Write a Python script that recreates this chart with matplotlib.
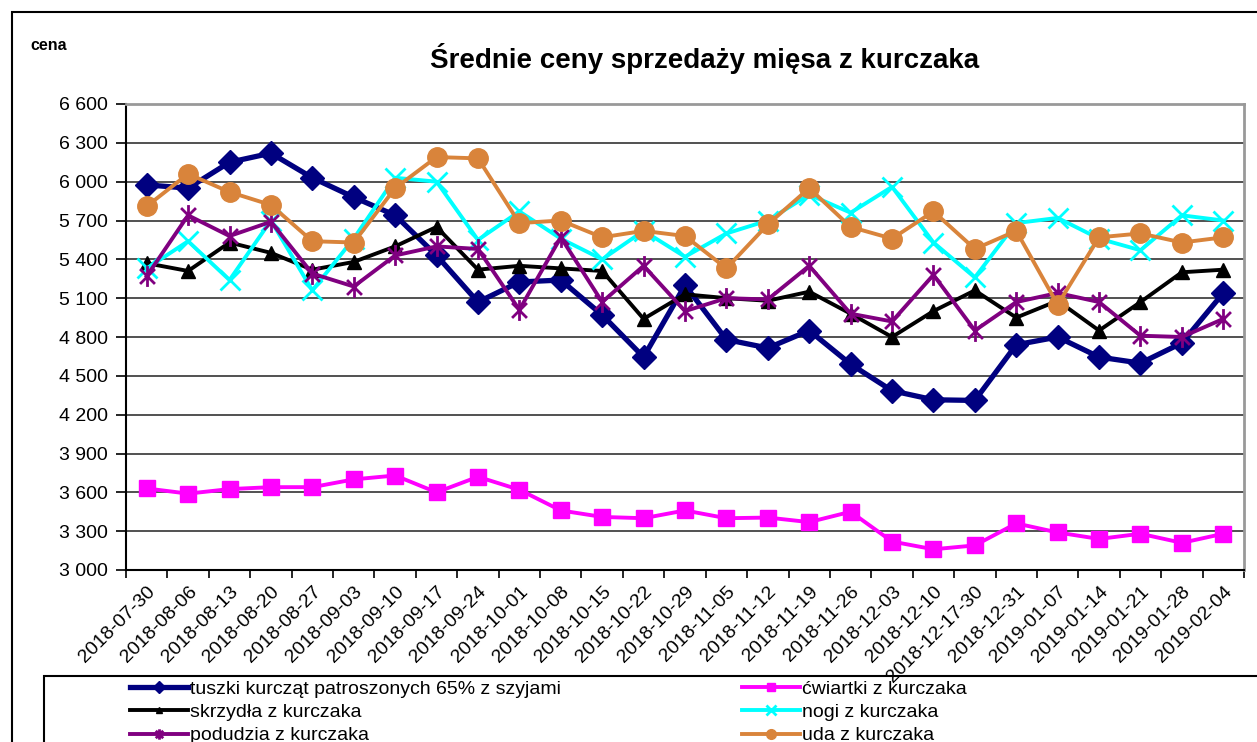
import matplotlib
matplotlib.use("Agg")
import matplotlib.pyplot as plt
from matplotlib.patches import Rectangle
from matplotlib.path import Path
from matplotlib.ticker import FixedLocator, FuncFormatter
from matplotlib.transforms import ScaledTranslation

plt.rcParams['font.family'] = ['Liberation Sans', 'DejaVu Sans']

dates = ["2018-07-30", "2018-08-06", "2018-08-13", "2018-08-20", "2018-08-27",
         "2018-09-03", "2018-09-10", "2018-09-17", "2018-09-24", "2018-10-01",
         "2018-10-08", "2018-10-15", "2018-10-22", "2018-10-29", "2018-11-05",
         "2018-11-12", "2018-11-19", "2018-11-26", "2018-12-03", "2018-12-10",
         "2018-12-17-30", "2018-12-31", "2019-01-07", "2019-01-14", "2019-01-21",
         "2019-01-28", "2019-02-04"]

tuszki = [5975, 5950, 6150, 6220, 6030, 5880, 5740, 5430, 5070, 5225,
          5240, 4970, 4645, 5200, 4780, 4715, 4850, 4590, 4385, 4315,
          4310, 4740, 4800, 4645, 4598, 4754, 5140]
cwiartki = [3630, 3590, 3625, 3640, 3640, 3700, 3730, 3600, 3720, 3620,
            3460, 3410, 3400, 3460, 3400, 3405, 3370, 3450, 3220, 3160,
            3190, 3360, 3290, 3240, 3280, 3210, 3280]
skrzydla = [5370, 5310, 5530, 5450, 5320, 5380, 5500, 5650, 5320, 5350,
            5330, 5310, 4940, 5130, 5100, 5080, 5150, 4980, 4800, 5000,
            5160, 4950, 5080, 4850, 5070, 5300, 5320]
nogi = [5330, 5540, 5240, 5700, 5160, 5560, 6030, 6000, 5550, 5770,
        5560, 5400, 5620, 5420, 5600, 5700, 5900, 5760, 5960, 5530,
        5260, 5680, 5720, 5560, 5470, 5740, 5700]
podudzia = [5270, 5740, 5580, 5690, 5290, 5190, 5430, 5500, 5480, 5010,
            5570, 5070, 5350, 5000, 5100, 5090, 5350, 4980, 4920, 5280,
            4850, 5070, 5140, 5070, 4810, 4800, 4940]
uda = [5810, 6060, 5920, 5820, 5540, 5530, 5950, 6190, 6180, 5680,
       5700, 5570, 5620, 5580, 5330, 5670, 5950, 5650, 5560, 5770,
       5480, 5620, 5050, 5570, 5600, 5530, 5570]

y_ticks = list(range(3000, 6601, 300))

asterisk = Path([(-1, -1), (1, 1), (-1, 1), (1, -1), (0, -1.4), (0, 1.4)],
                [Path.MOVETO, Path.LINETO] * 3)

fig = plt.figure(figsize=(12.57, 7.42), dpi=100)
ax = fig.add_axes([126 / 1257, 1 - 570 / 742, 1118 / 1257, 466 / 742])

x = list(range(len(dates)))
h_tus, = ax.plot(x, tuszki, color='#000080', lw=3.8, marker='D', ms=12,
                 label='tuszki kurcząt patroszonych 65% z szyjami')
h_cw, = ax.plot(x, cwiartki, color='#FF00FF', lw=2.8, marker='s', ms=12,
                label='ćwiartki z kurczaka')
h_skr, = ax.plot(x, skrzydla, color='black', lw=2.8, marker='^', ms=10,
                 label='skrzydła z kurczaka')
h_nog, = ax.plot(x, nogi, color='#00FFFF', lw=2.8, marker='x', ms=14, mew=2,
                 label='nogi z kurczaka')
h_pod, = ax.plot(x, podudzia, color='#800080', lw=2.8, marker=asterisk, ms=15,
                 mew=2, mec='#800080', label='podudzia z kurczaka')
h_uda, = ax.plot(x, uda, color='#D9843B', lw=2.8, marker='o', ms=14,
                 label='uda z kurczaka')

ax.set_xlim(-0.5, len(dates) - 0.5)
ax.set_ylim(3000, 6600)
ax.set_yticks(y_ticks)
ax.yaxis.set_major_formatter(FuncFormatter(lambda v, p: f"{int(v):,}".replace(",", " ")))
ax.yaxis.grid(True, color='#333333', lw=1.2)
ax.set_axisbelow(True)
ax.tick_params(axis='y', direction='out', length=7, width=1.2, labelsize=14, pad=6)

ax.set_xticks(x)
ax.set_xticklabels(dates, rotation=45, ha='right', va='center',
                   rotation_mode='anchor', fontsize=14)
ax.xaxis.set_minor_locator(FixedLocator([i - 0.5 for i in range(len(dates) + 1)]))
ax.tick_params(axis='x', which='major', length=0, pad=14)
ax.tick_params(axis='x', which='minor', direction='out', length=6, width=1.2)
for lab in ax.get_xticklabels():
    lab.set_transform(lab.get_transform() + ScaledTranslation(0.06, 0, fig.dpi_scale_trans))

ax.spines['left'].set_color('black')
ax.spines['bottom'].set_color('black')
ax.spines['left'].set_linewidth(1.5)
ax.spines['bottom'].set_linewidth(1.5)
ax.spines['top'].set_color('#999999')
ax.spines['right'].set_color('#999999')
ax.spines['top'].set_linewidth(2)
ax.spines['right'].set_linewidth(2)

fig.text(705 / 1257, 1 - 58 / 742, 'Średnie ceny sprzedaży mięsa z kurczaka',
         ha='center', va='center', fontsize=20, weight='bold')
fig.text(30 / 1257, 1 - 45 / 742, 'cena', ha='left', va='center',
         fontsize=11.5, weight='bold')

# ramki wykresu i legendy
fig.patches.append(Rectangle((12 / 1257, -0.1), 1.2, 1 - 12 / 742 + 0.1,
                             transform=fig.transFigure, fill=False,
                             ec='black', lw=1.5))
fig.patches.append(Rectangle((44 / 1257, -0.1), 1.2, (742 - 676) / 742 + 0.1,
                             transform=fig.transFigure, fill=False,
                             ec='black', lw=1.5))

fig.legend(handles=[h_tus, h_skr, h_pod, h_cw, h_nog, h_uda], ncol=2,
           loc='upper left', bbox_to_anchor=(130 / 1257, 1 - 680 / 742),
           frameon=False, borderpad=0, borderaxespad=0, handlelength=3.0,
           handletextpad=0.1, columnspacing=9.3, labelspacing=0.3,
           fontsize=14, markerscale=0.5)

fig.savefig('out.png', dpi=100)
